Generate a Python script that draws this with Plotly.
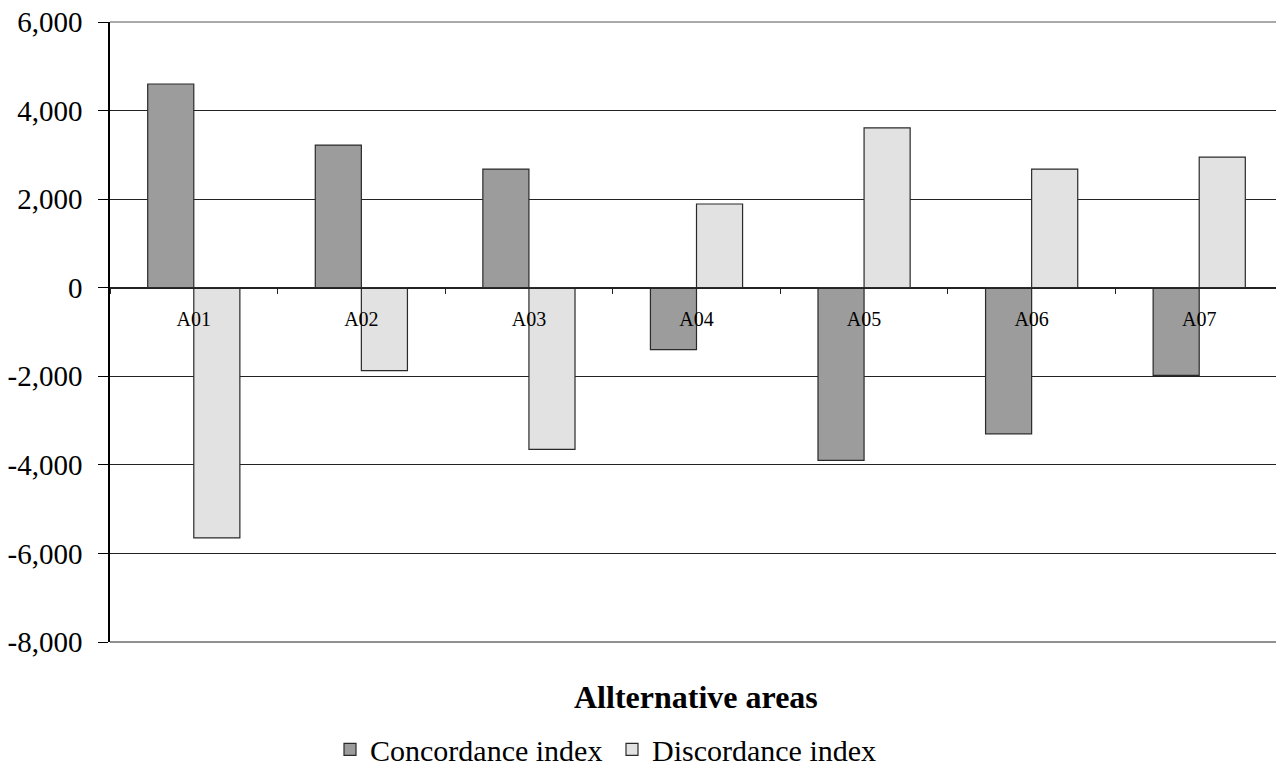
import plotly.graph_objects as go

categories = ["A01", "A02", "A03", "A04", "A05", "A06", "A07"]
concordance = [4600, 3220, 2680, -1400, -3900, -3300, -1980]
discordance = [-5650, -1870, -3650, 1890, 3610, 2680, 2950]
y_ticks = [-8000, -6000, -4000, -2000, 0, 2000, 4000, 6000]
y_tick_labels = ["-8,000", "-6,000", "-4,000", "-2,000", "0", "2,000", "4,000", "6,000"]

FONT = "Liberation Serif"

fig = go.Figure()
fig.add_trace(go.Bar(
    x=categories, y=concordance, name="Concordance index",
    marker=dict(color="#9c9c9c", line=dict(color="#2a2a2a", width=1.2)),
))
fig.add_trace(go.Bar(
    x=categories, y=discordance, name="Discordance index",
    marker=dict(color="#e2e2e2", line=dict(color="#2a2a2a", width=1.2)),
))

# the page body has an 8px margin, so the figure is 8px smaller and offsets shrink by 8
fig.update_layout(
    width=1276, height=763,
    margin=dict(l=102, r=1, t=14, b=129, autoexpand=False),
    paper_bgcolor="white", plot_bgcolor="white",
    barmode="group", bargap=0.45, bargroupgap=0,
    font=dict(family=FONT, color="black"),
    showlegend=True,
    legend=dict(
        orientation="h", x=(330 - 110) / 1173, xanchor="left",
        y=-0.215, yanchor="bottom",
        font=dict(family=FONT, size=30), entrywidth=237,
        traceorder="normal", bgcolor="rgba(0,0,0,0)",
    ),
    annotations=[dict(
        text="<b>Allternative areas</b>", xref="paper", yref="paper",
        x=(696 - 110) / 1173, y=(642 - 697) / 620, xanchor="center", yanchor="middle",
        showarrow=False, font=dict(family=FONT, size=32),
    )],
)

fig.update_yaxes(
    range=[-8000, 6000], tickvals=y_ticks, ticktext=y_tick_labels,
    showgrid=True, gridcolor="#222", gridwidth=1,
    zeroline=True, zerolinecolor="#222", zerolinewidth=1,
    showline=True, linecolor="black", linewidth=1.5,
    ticks="outside", ticklen=10, tickcolor="black",
    tickfont=dict(family=FONT, size=29), ticklabelstandoff=10,
    ticklabeloverflow="allow",
)
fig.update_xaxes(
    type="category", anchor="free", position=8000 / 14000,
    showline=True, linecolor="#222", linewidth=1,
    ticks="outside", ticklen=5, tickcolor="#222", tickson="boundaries",
    tickfont=dict(family=FONT, size=20), ticklabelstandoff=13,
    showgrid=False, zeroline=False,
)

# frame of plot area (top, right, bottom)
fig.add_shape(type="line", xref="paper", yref="paper", x0=1, x1=1, y0=0, y1=1,
              line=dict(color="#999", width=1))
fig.add_shape(type="line", xref="paper", yref="paper", x0=0, x1=1, y0=0, y1=0,
              line=dict(color="#222", width=1))
fig.add_shape(type="line", xref="paper", yref="paper", x0=0, x1=1, y0=1, y1=1,
              line=dict(color="#555", width=1))

fig.write_html("out.html")
